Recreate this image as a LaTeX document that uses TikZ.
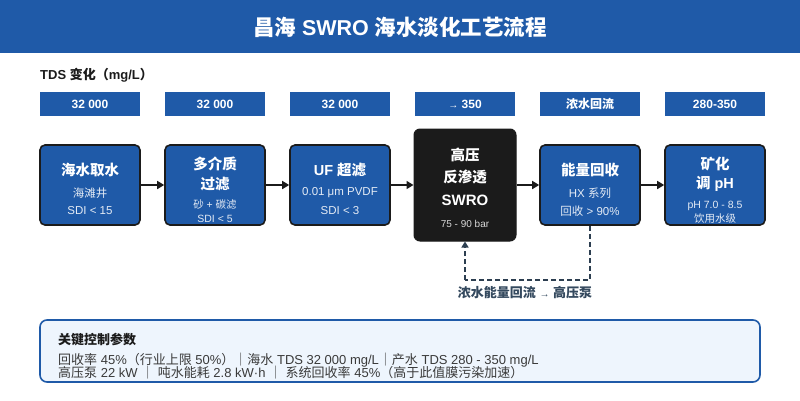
\documentclass[tikz,border=0pt]{standalone}
\usepackage{fontspec}
\setmainfont{Liberation Sans}
\newfontfamily\zhfont{Noto Sans CJK SC}
\newcommand\zh[1]{{\zhfont #1}}
\usetikzlibrary{arrows.meta}
\definecolor{mblue}{HTML}{1F5AA8}
\definecolor{mdark}{HTML}{1B1B1B}
\definecolor{slate}{HTML}{2C3E50}
\definecolor{lbl}{HTML}{34495E}
\definecolor{panel}{HTML}{EEF5FD}
\definecolor{bodytxt}{HTML}{3A3A3A}
\begin{document}
\begin{tikzpicture}[x=1pt,y=-1pt,
  tdsbox/.style={fill=mblue,draw=none,minimum width=100pt,minimum height=24pt,inner sep=0pt,text=white,font=\fontsize{12}{12}\selectfont\bfseries},
  procbox/.style={fill=mblue,draw=mdark,line width=1.6pt,rounded corners=5pt,minimum width=100pt,minimum height=80pt,inner sep=0pt},
  robox/.style={fill=mdark,draw=mdark,line width=1pt,rounded corners=6pt,minimum width=102pt,minimum height=112pt,inner sep=0pt},
  ptitle/.style={text=white,font=\fontsize{14.5}{14.5}\selectfont\bfseries,inner sep=0pt},
  psub/.style={text=white!88!mblue,font=\fontsize{11.5}{11.5}\selectfont,inner sep=0pt},
  flow/.style={-{Triangle[length=7pt,width=8pt]},line width=1.6pt,draw=mdark},
  recyc/.style={dashed,dash pattern=on 5pt off 3pt,line width=1.5pt,draw=slate},
]
\useasboundingbox (0,0) rectangle (800,400);
% title bar
\fill[mblue] (0,0) rectangle (800,53);
\node[text=white,font=\fontsize{21.5}{21.5}\selectfont\bfseries,inner sep=0pt] (title) at (400,27) {\zh{昌海} SWRO \zh{海水淡化工艺流程}};
% TDS label
\node[anchor=west,inner sep=0pt,text=mdark,font=\fontsize{13}{13}\selectfont\bfseries] (tdslbl) at (40,75) {TDS \zh{变化（}mg/L\zh{）}};
% TDS boxes
\node[tdsbox] (t1) at (90,104) {32 000};
\node[tdsbox] (t2) at (215,104) {32 000};
\node[tdsbox] (t3) at (340,104) {32 000};
\node[tdsbox] (t4) at (465,104) {{\mdseries\fontsize{10}{10}\selectfont →}\ 350};
\node[tdsbox] (t5) at (590,104) {\zh{浓水回流}};
\node[tdsbox] (t6) at (715,104) {280-350};
% process boxes
\node[procbox] (b1) at (90,185) {};
\node[procbox] (b2) at (215,185) {};
\node[procbox] (b3) at (340,185) {};
\node[robox] (b4) at (465,185) {};
\node[procbox] (b5) at (590,185) {};
\node[procbox] (b6) at (715,185) {};
% box texts
\node[ptitle] (b1t) at (90,170) {\zh{海水取水}};
\node[psub] (b1a) at (90,193) {\zh{海滩井}};
\node[psub] (b1b) at (90,211) {SDI < 15};
\node[ptitle] (b2t) at (215,164) {\zh{多介质}};
\node[ptitle] (b2u) at (215,184) {\zh{过滤}};
\node[psub,font=\fontsize{10.5}{10.5}\selectfont] (b2a) at (215,205) {\zh{砂} + \zh{碳滤}};
\node[psub,font=\fontsize{10.5}{10.5}\selectfont] (b2b) at (215,219) {SDI < 5};
\node[ptitle] (b3t) at (340,170) {UF \zh{超滤}};
\node[psub] (b3a) at (340,193) {0.01 μm PVDF};
\node[psub] (b3b) at (340,211) {SDI < 3};
\node[ptitle] (b4t) at (465,155) {\zh{高压}};
\node[ptitle] (b4u) at (465,177) {\zh{反渗透}};
\node[ptitle,font=\fontsize{15}{15}\selectfont\bfseries] (b4v) at (465,200) {SWRO};
\node[psub,text=white!85!black,font=\fontsize{10}{10}\selectfont] (b4a) at (465,224) {75 - 90 bar};
\node[ptitle] (b5t) at (590,170) {\zh{能量回收}};
\node[psub] (b5a) at (590,193) {HX \zh{系列}};
\node[psub] (b5b) at (590,211) {\zh{回收} > 90\%};
\node[ptitle] (b6t) at (715,164) {\zh{矿化}};
\node[ptitle] (b6u) at (715,184) {\zh{调} pH};
\node[psub,font=\fontsize{10.5}{10.5}\selectfont] (b6a) at (715,206) {pH 7.0 - 8.5};
\node[psub,font=\fontsize{10.5}{10.5}\selectfont] (b6b) at (715,219) {\zh{饮用水级}};
% flow arrows
\draw[flow] (b1.east) -- (b2.west);
\draw[flow] (b2.east) -- (b3.west);
\draw[flow] (b3.east) -- (b4.west);
\draw[flow] (b4.east) -- (b5.west);
\draw[flow] (b5.east) -- (b6.west);
% recycle loop
\coordinate (r1) at (590,280);
\coordinate (r2) at (465,280);
\draw[recyc] (b5.south) -- (r1) -- (r2);
\draw[recyc,-{Triangle[length=6pt,width=7pt]}] (r2) -- (b4.south);
\node[text=lbl,font=\fontsize{13}{13}\selectfont\bfseries,inner sep=0pt] (rlbl) at (525,293) {\zh{浓水能量回流} {\mdseries\fontsize{10}{10}\selectfont →} \zh{高压泵}};
% bottom panel
\node[draw=mblue,fill=panel,line width=1.6pt,rounded corners=7pt,minimum width=720pt,minimum height=62pt,inner sep=0pt] (panel) at (400,351) {};
\node[anchor=west,inner sep=0pt,text=mdark,font=\fontsize{13}{13}\selectfont\bfseries] (ptitle) at (58,340) {\zh{关键控制参数}};
\node[anchor=west,inner sep=0pt,text=bodytxt,font=\fontsize{13}{13}\selectfont] (pl1) at (58,360) {\zh{回收率} 45\%\zh{（行业上限} 50\%\zh{）｜海水} TDS 32 000 mg/L\zh{｜产水} TDS 280 - 350 mg/L};
\node[anchor=west,inner sep=0pt,text=bodytxt,font=\fontsize{13}{13}\selectfont] (pl2) at (58,373) {\zh{高压泵} 22 kW \zh{｜} \zh{吨水能耗} 2.8 kW·h \zh{｜} \zh{系统回收率} 45\%\zh{（高于此值膜污染加速）}};
\end{tikzpicture}
\end{document}
